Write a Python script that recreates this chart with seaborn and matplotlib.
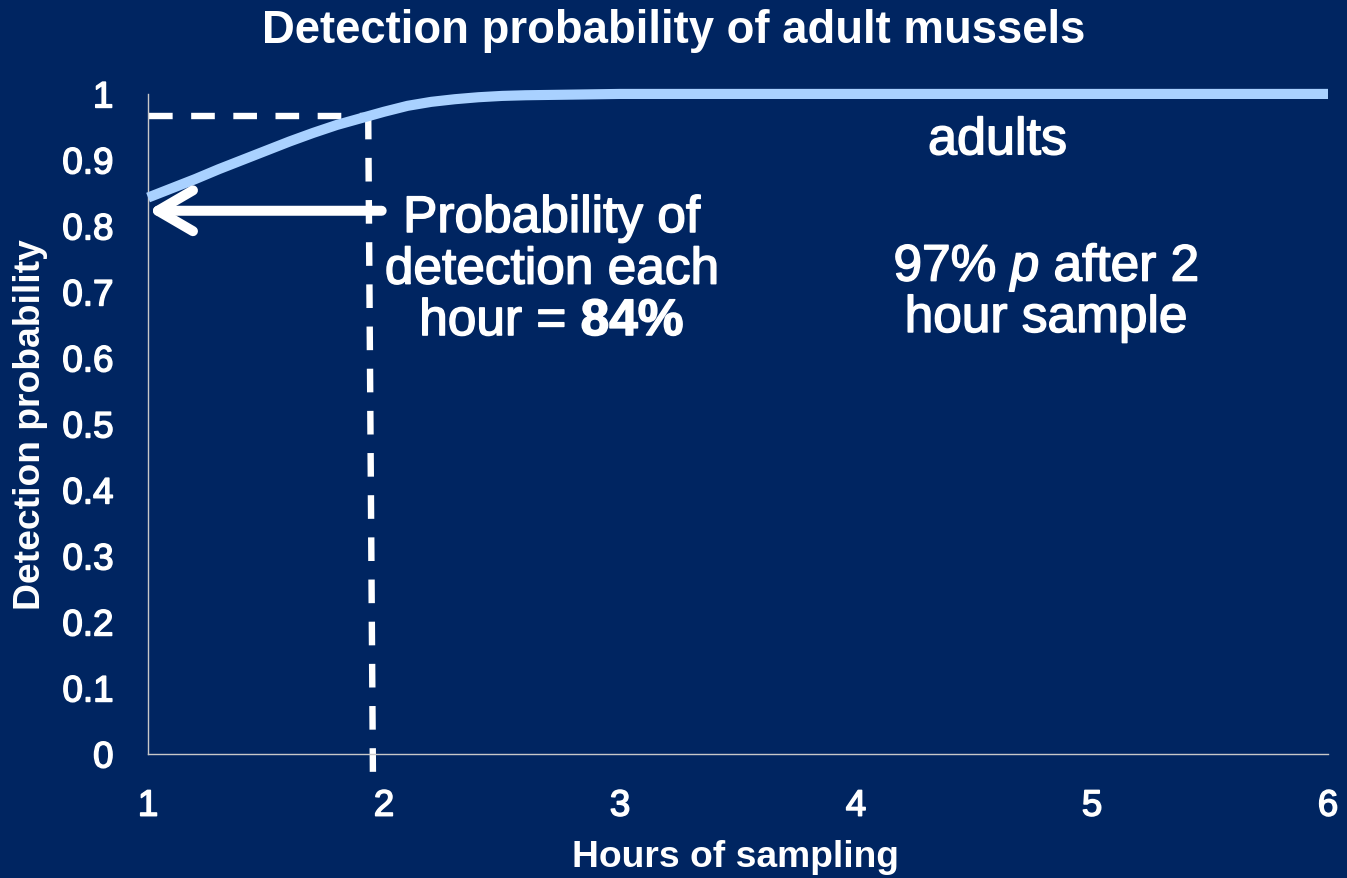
import numpy as np
import pandas as pd
import matplotlib
matplotlib.use('Agg')
import matplotlib.pyplot as plt
import matplotlib.patheffects as pe
import seaborn as sns

# curve values
hours = [1.0, 1.1, 1.2, 1.3, 1.4, 1.5, 1.6, 1.7, 1.8, 1.9, 2.0, 2.1, 2.2, 2.3,
         2.4, 2.5, 2.6, 2.8, 3.0, 4.0, 5.0, 6.0]
prob = [0.843, 0.857, 0.871, 0.886, 0.900, 0.914, 0.928, 0.941, 0.953, 0.963,
        0.973, 0.982, 0.988, 0.992, 0.995, 0.997, 0.998, 0.999, 1.0, 1.0, 1.0, 1.0]

x_ticks = [1, 2, 3, 4, 5, 6]
y_ticks = [0, 0.1, 0.2, 0.3, 0.4, 0.5, 0.6, 0.7, 0.8, 0.9, 1]
y_ticklabels = ['0', '0.1', '0.2', '0.3', '0.4', '0.5', '0.6', '0.7', '0.8', '0.9', '1']

bg = '#002561'
# a thin white outline makes the regular font look a bit heavier
thick = [pe.withStroke(linewidth=1.1, foreground='white')]

sns.set_theme(style='white')
plt.rcParams['font.family'] = ['Liberation Sans', 'DejaVu Sans']
plt.rcParams['mathtext.fontset'] = 'custom'
plt.rcParams['mathtext.rm'] = 'Liberation Sans'
plt.rcParams['mathtext.it'] = 'Liberation Sans:italic'
plt.rcParams['mathtext.bf'] = 'Liberation Sans:bold'

fig = plt.figure(figsize=(13.47, 8.79), dpi=100, facecolor=bg)
ax = fig.add_axes([0.1099, 0.1411, 0.876, 0.7509])
ax.set_facecolor(bg)

df = pd.DataFrame({'hours': hours, 'prob': prob})
sns.lineplot(data=df, x='hours', y='prob', ax=ax, color='#A9D1FF', lw=7.3,
             solid_capstyle='butt', solid_joinstyle='round', clip_on=False, zorder=3)

ax.set_xlim(1, 6)
ax.set_ylim(0, 1)
ax.set_xticks(x_ticks)
ax.set_yticks(y_ticks)
ax.set_yticklabels(y_ticklabels)
ax.tick_params(length=0, pad=25, labelsize=26.5, colors='white')
for lab in ax.get_xticklabels() + ax.get_yticklabels():
    lab.set_path_effects(thick)

for s in ['top', 'right']:
    ax.spines[s].set_visible(False)
for s in ['left', 'bottom']:
    ax.spines[s].set_color('#C8C8C8')
    ax.spines[s].set_linewidth(1)

ax.set_xlabel('Hours of sampling', fontsize=26.8, fontweight='bold', color='white')
ax.set_ylabel('Detection probability', fontsize=26.8, fontweight='bold', color='white')
ax.xaxis.label.set_va('center')
ax.yaxis.label.set_va('center')
ax.xaxis.set_label_coords(0.4975, -0.156)
ax.yaxis.set_label_coords(-0.1, 0.5)

fig.suptitle('Detection probability of adult mussels', fontsize=32.8,
             fontweight='bold', color='white', y=1 - 31 / 879, va='center')

# dashed guide lines at 97%
ax.plot([1.005, 1.955], [0.967, 0.967], color='white', lw=4.6, dashes=(3.7, 2.9),
        solid_capstyle='butt', clip_on=False)
ax.plot([1.933, 1.953], [0.967, -0.034], color='white', lw=4.6, dashes=(3.7, 2.9),
        clip_on=False)

# arrow pointing at 84%
ax.annotate('', xy=(1.0, 0.823), xytext=(1.99, 0.823),
            arrowprops=dict(arrowstyle='->,head_length=0.72,head_width=0.42',
                            lw=7.2, color='white', mutation_scale=35,
                            shrinkA=0, shrinkB=0, capstyle='round',
                            joinstyle='round'), annotation_clip=False)

ax.text(2.71, 0.733, 'Probability of\ndetection each\nhour = $\\mathbf{84\\%}$',
        ha='center', va='center', multialignment='center', fontsize=37,
        color='white', linespacing=1.07, path_effects=thick)

ax.text(4.60, 0.929, 'adults', ha='center', va='center', fontsize=37.5, color='white',
        path_effects=thick)
ax.text(4.805, 0.70, '97% $\\mathit{p}$ after 2\nhour sample', ha='center', va='center',
        multialignment='center', fontsize=37, color='white', linespacing=1.0,
        path_effects=thick)

fig.savefig('out.png', dpi=100, facecolor=bg)
